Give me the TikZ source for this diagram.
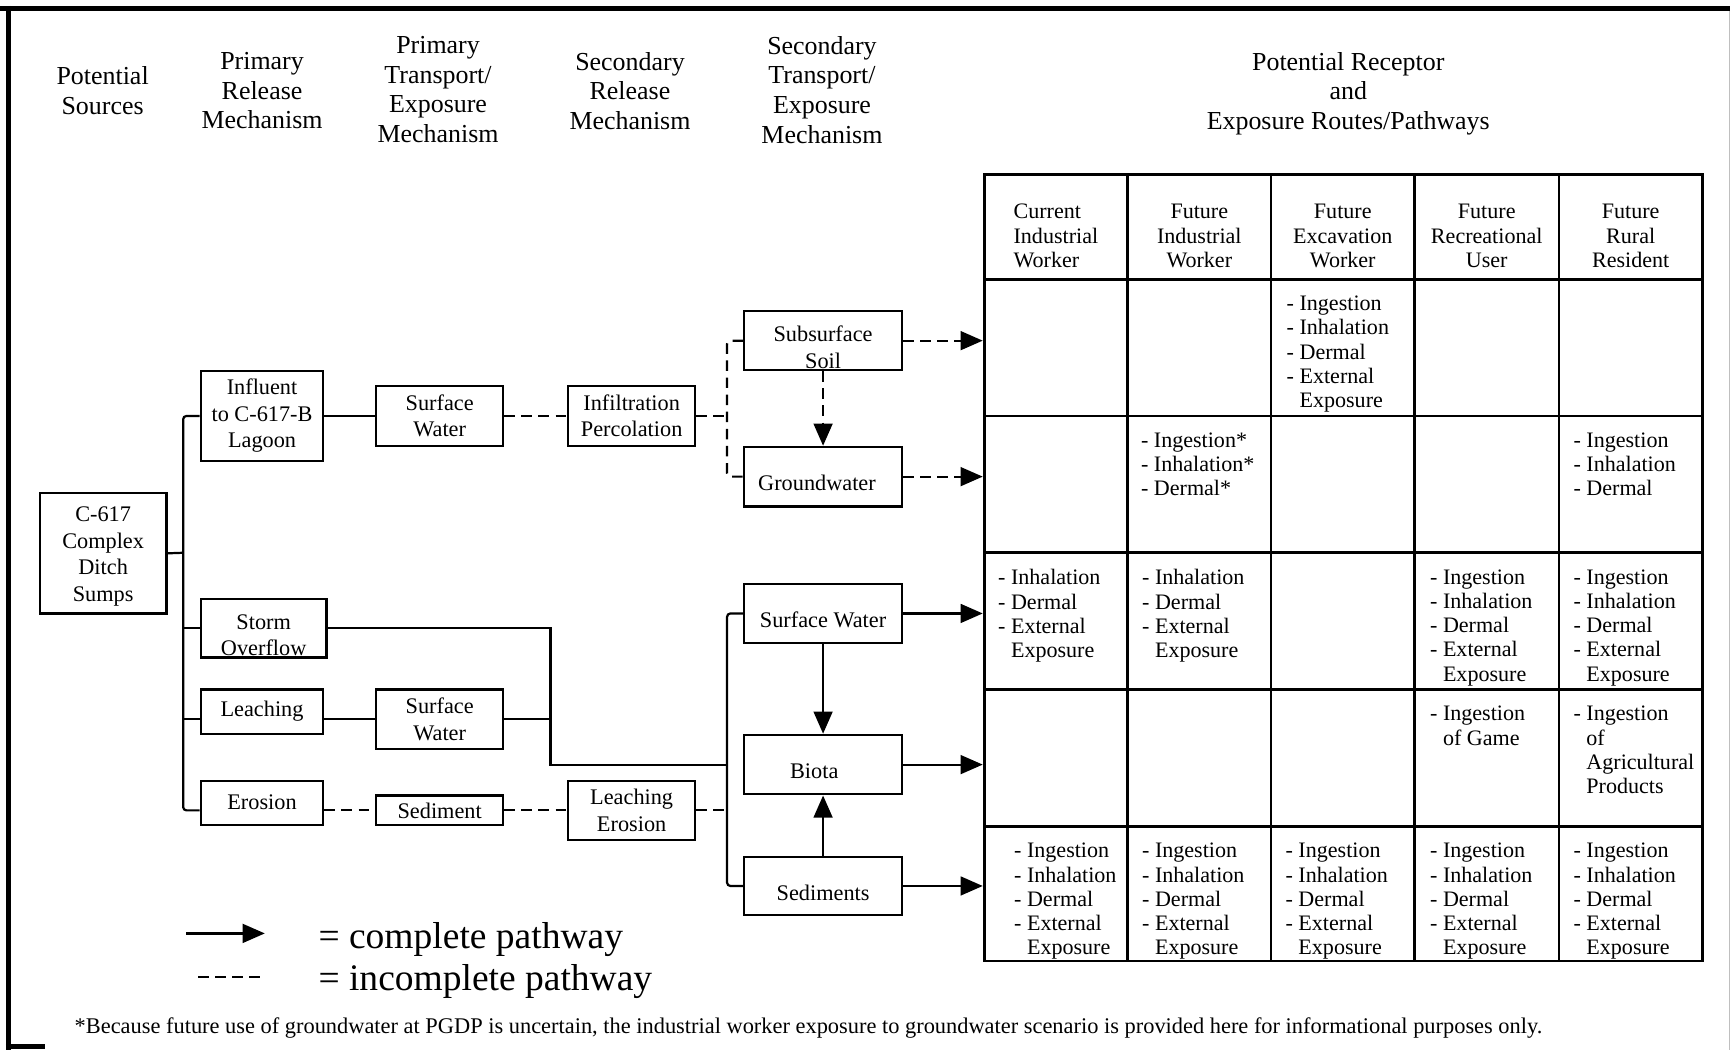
\documentclass[tikz,border=0pt]{standalone}
\usepackage{fontspec}
\setmainfont{Liberation Serif}
\usetikzlibrary{arrows.meta}

\newcommand{\headfont}{\fontsize{23.5}{27}\selectfont}
\newcommand{\boxfont}{\fontsize{20.2}{24}\selectfont}
\newcommand{\cellfont}{\fontsize{20}{22}\selectfont}
\newcommand{\keyfont}{\fontsize{34}{36}\selectfont}
\newcommand{\notefont}{\fontsize{20.3}{22}\selectfont}
\newcommand{\dropline}{\rule{0pt}{26pt}}
\newcommand{\ind}{\hphantom{- }}

\begin{document}
\begin{tikzpicture}[x=1pt,y=-1pt,
    box/.style={draw,line width=2pt,inner sep=0pt,align=center,font=\boxfont},
    head/.style={anchor=north,inner sep=0pt,align=center,font=\headfont},
    colhead/.style={anchor=north,inner sep=0pt,align=center,font=\cellfont},
    cell/.style={anchor=north west,inner sep=0pt,align=left,font=\cellfont},
    solidln/.style={line width=2pt},
    dashln/.style={line width=2pt,dash pattern=on 9.5pt off 6pt},
    >={Triangle[length=20pt,width=17pt]}]
  \useasboundingbox (0,0) rectangle (1568,952);
  \draw[line width=4.6pt] (0,7.7) -- (1568,7.7);
  \draw[line width=4.6pt] (7.7,5.4) -- (7.7,952);
  \draw[line width=4.2pt] (5.4,948.7) -- (40.8,948.7);
  \draw[gray!50,line width=0.8pt] (1567.5,10) -- (1567.5,952);

  \node[head] (hsrc) at (93,60) {Potential\\Sources};
  \node[head] (hrel1) at (237.5,47) {Primary\\Release\\Mechanism};
  \node[head] (htr1) at (397,32.5) {Primary\\Transport/\\Exposure\\Mechanism};
  \node[head] (hrel2) at (571,47) {Secondary\\Release\\Mechanism};
  \node[head] (htr2) at (745,32.5) {Secondary\\Transport/\\Exposure\\Mechanism};
  \node[head] (hrec) at (1222,47) {Potential Receptor\\and\\Exposure Routes/Pathways};

  \node[box,minimum width=115,minimum height=109] (src) at (93.5,501.5) {\rule{0pt}{19pt}C-617\\Complex\\Ditch\\Sumps};
  \node[box,minimum width=111,minimum height=82] (infl) at (237.5,377) {Influent\\to C-617-B\\Lagoon};
  \node[box,minimum width=114,minimum height=53] (storm) at (239,569.5) {\dropline Storm\\Overflow};
  \node[box,minimum width=111,minimum height=40] (leach) at (237.5,645) {Leaching};
  \node[box,minimum width=111,minimum height=40] (eros) at (237.5,727.5) {Erosion};
  \node[box,minimum width=115,minimum height=54] (sw1) at (398.5,377) {Surface\\Water};
  \node[box,minimum width=115,minimum height=54] (sw2) at (398.5,652) {Surface\\Water};
  \node[box,minimum width=115,minimum height=27] (sed1) at (398.5,734.5) {Sediment};
  \node[box,minimum width=115,minimum height=54] (infil) at (572.5,377) {Infiltration\\Percolation};
  \node[box,minimum width=115,minimum height=53] (leer) at (572.5,734.5) {Leaching\\Erosion};
  \node[box,minimum width=143,minimum height=53.5] (soil) at (746,308.75) {\dropline Subsurface\\Soil};
  \node[box,minimum width=143,minimum height=54] (gw) at (746,432) {\dropline Groundwater\hspace*{11pt}};
  \node[box,minimum width=143,minimum height=54] (sw3) at (746,556) {\dropline Surface Water};
  \node[box,minimum width=143,minimum height=54] (biota) at (746,693) {\dropline Biota\hspace*{16pt}};
  \node[box,minimum width=143,minimum height=52] (sed2) at (746,803) {\dropline Sediments};

  \coordinate (busL) at (166,501);
  \coordinate (busM) at (499,693);
  \coordinate (busD) at (659,377);
  \coordinate (busR) at (659,693);

  \draw[solidln] (src.east) -- (busL);
  \draw[solidln,rounded corners=3pt] (infl.west) -| (busL) |- (eros.west |- sed1.west);
  \draw[solidln] (busL |- storm.west) -- (storm.west);
  \draw[solidln] (busL |- sw2.west) -- (leach.west |- sw2.west);
  \draw[solidln] (infl.east) -- (sw1.west);
  \draw[solidln] (leach.east |- sw2.west) -- (sw2.west);
  \draw[solidln] (sw2.east) -- (sw2.east -| busM);
  \draw[solidln] (storm.east) -| (busM) -- (busR);
  \draw[solidln,rounded corners=3pt] (sw3.west) -| (busR) |- (sed2.west);
  \draw[dashln] (eros.east |- sed1.west) -- (sed1.west);
  \draw[dashln] (sed1.east) -- (leer.west);
  \draw[dashln] (leer.east) -- (leer.east -| busR);
  \draw[dashln] (sw1.east) -- (infil.west);
  \draw[dashln] (infil.east) -- (busD);
  \draw[dashln,rounded corners=3pt] (soil.west) -| (busD) |- (gw.west);

  \draw[dashln,->] (soil.south) -- (gw.north);
  \draw[solidln,->] (sw3.south) -- (biota.north);
  \draw[solidln,->] (sed2.north) -- (biota.south);

  \node[draw,line width=2.6pt,minimum width=651,minimum height=713,inner sep=0pt] (tbl) at (1217.5,514.5) {};
  \foreach \x in {1022,1152,1282,1413}
    \draw[line width=2.6pt] (\x,158) -- (\x,871);
  \foreach \y in {253,377,501,625,749}
    \draw[line width=2.6pt] (892,\y) -- (1543,\y);

  \draw[dashln,->] (soil.east) -- (soil.east -| tbl.west);
  \draw[dashln,->] (gw.east) -- (gw.east -| tbl.west);
  \draw[solidln,->] (sw3.east) -- (sw3.east -| tbl.west);
  \draw[solidln,->] (biota.east) -- (biota.east -| tbl.west);
  \draw[solidln,->] (sed2.east) -- (sed2.east -| tbl.west);

  \node[colhead,align=left] (k1) at (957,185) {Current\\Industrial\\Worker};
  \node[colhead] (k2) at (1087,185) {Future\\Industrial\\Worker};
  \node[colhead] (k3) at (1217,185) {Future\\Excavation\\Worker};
  \node[colhead] (k4) at (1347.5,185) {Future\\Recreational\\User};
  \node[colhead] (k5) at (1478,185) {Future\\Rural\\Resident};

  \node[cell] (c23) at (1166,268) {- Ingestion\\- Inhalation\\- Dermal\\- External\\\ind Exposure};
  \node[cell] (c32) at (1034,392) {- Ingestion*\\- Inhalation*\\- Dermal*};
  \node[cell] (c35) at (1426,392) {- Ingestion\\- Inhalation\\- Dermal};
  \node[cell] (c41) at (904.5,516) {- Inhalation\\- Dermal\\- External\\\ind Exposure};
  \node[cell] (c42) at (1035,516) {- Inhalation\\- Dermal\\- External\\\ind Exposure};
  \node[cell] (c44) at (1296,516) {- Ingestion\\- Inhalation\\- Dermal\\- External\\\ind Exposure};
  \node[cell] (c45) at (1426,516) {- Ingestion\\- Inhalation\\- Dermal\\- External\\\ind Exposure};
  \node[cell] (c54) at (1296,640) {- Ingestion\\\ind of Game};
  \node[cell] (c55) at (1426,640) {- Ingestion\\\ind of\\\ind Agricultural\\\ind Products};
  \foreach \x [count=\i] in {919,1035,1165,1296,1426}
    \node[cell] (c6\i) at (\x,764) {- Ingestion\\- Inhalation\\- Dermal\\- External\\\ind Exposure};

  \coordinate (keya) at (169,846);
  \coordinate (keyb) at (240,846);
  \coordinate (keyc) at (179.5,885.5);
  \coordinate (keyd) at (238,885.5);
  \draw[solidln,->] (keya) -- (keyb);
  \draw[dashln] (keyc) -- (keyd);
  \node[anchor=base west,inner sep=0pt,font=\keyfont] (key1) at (288.5,860) {= complete pathway};
  \node[anchor=base west,inner sep=0pt,font=\keyfont] (key2) at (288.5,898) {= incomplete pathway};

  \node[anchor=base west,inner sep=0pt,font=\notefont] (note) at (67.5,937) {*Because future use of groundwater at PGDP is uncertain, the industrial worker exposure to groundwater scenario is provided here for informational purposes only.};
\end{tikzpicture}
\end{document}
